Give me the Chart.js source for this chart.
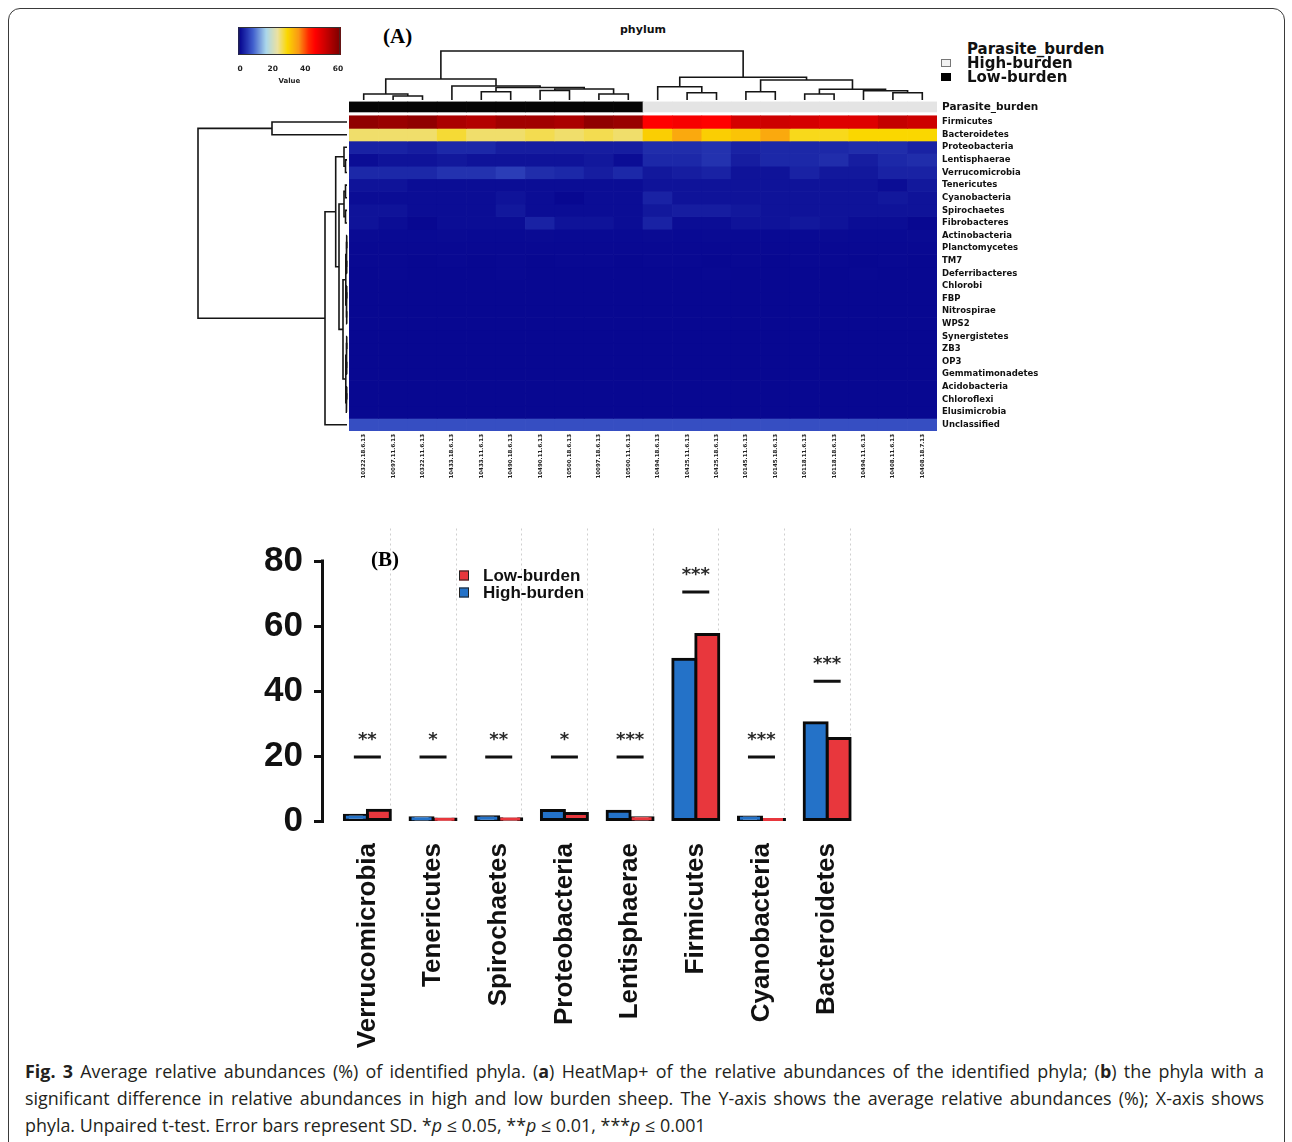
<!DOCTYPE html>
<html>
<head>
<meta charset="utf-8">
<script src="https://cdn.jsdelivr.net/npm/chart.js@4.4.1/dist/chart.umd.min.js"></script>
<style>
  html, body { margin: 0; padding: 0; background: #fff; }
  body { width: 1292px; height: 1142px; position: relative; overflow: hidden; font-family: "Liberation Sans", Arial, sans-serif; color: #111; }
  .frame { position: absolute; left: 8px; top: 8px; width: 1275px; height: 1170px; border: 1px solid #3a3a3a; border-radius: 12px; }
  .box { position: absolute; }
  .box canvas { display: block; }
  .txt { position: absolute; white-space: nowrap; }
  .panel { font-family: "Liberation Serif", "Times New Roman", serif; font-weight: bold; font-size: 21px; color: #000; }
  .sq { position: absolute; width: 10px; height: 8px; box-sizing: border-box; }
  .caption { position: absolute; left: 25px; top: 1058px; width: 1239px; font-family: "Open Sans", sans-serif; font-size: 17.9px; line-height: 27px; color: #231f20; }
  .caption .j { text-align: justify; text-align-last: justify; }
</style>
</head>
<body>
<div class="frame"></div>

<div class="box" style="left:230px;top:25px"><canvas id="keyChart" width="120" height="60"></canvas></div>
<div class="box" style="left:349px;top:49px"><canvas id="colTree" width="588" height="53"></canvas></div>
<div class="box" style="left:196px;top:100px"><canvas id="rowTree" width="153" height="331"></canvas></div>
<div class="box" style="left:349px;top:100px"><canvas id="heatChart" width="718" height="386"></canvas></div>
<div class="box" style="left:224px;top:520px"><canvas id="barChart" width="646" height="531"></canvas></div>

<div class="txt panel" style="left:383px;top:24px">(A)</div>
<div class="txt panel" style="left:371px;top:547px">(B)</div>
<div class="txt" style="left:620px;top:23px;font:bold 11px 'DejaVu Sans',sans-serif">phylum</div>

<div class="txt" style="left:967px;top:42px;font:bold 15px/14px 'DejaVu Sans',sans-serif">Parasite_burden</div>
<div class="sq" style="left:941px;top:59px;background:#f2f2f2;border:1px solid #777"></div>
<div class="txt" style="left:967px;top:56px;font:bold 15px/14px 'DejaVu Sans',sans-serif">High-burden</div>
<div class="sq" style="left:941px;top:73px;background:#000"></div>
<div class="txt" style="left:967px;top:70px;font:bold 15px/14px 'DejaVu Sans',sans-serif">Low-burden</div>

<div class="caption">
  <div class="j"><b>Fig. 3</b> Average relative abundances (%) of identified phyla. (<b>a</b>) HeatMap+ of the relative abundances of the identified phyla; (<b>b</b>) the phyla with a</div>
  <div class="j">significant difference in relative abundances in high and low burden sheep. The Y-axis shows the average relative abundances (%); X-axis shows</div>
  <div>phyla. Unpaired t-test. Error bars represent SD. *<i>p</i> ≤ 0.05, **<i>p</i> ≤ 0.01, ***<i>p</i> ≤ 0.001</div>
</div>

<script>
// ---------------- Panel A: heatmap of phylum relative abundance (%) ----------------
const sampleIds = ['10322.18.6.13','10097.11.6.13','10322.11.6.13','10433.18.6.13','10433.11.6.13',
  '10490.18.6.13','10490.11.6.13','10500.18.6.13','10097.18.6.13','10500.11.6.13',
  '10494.18.6.13','10425.11.6.13','10425.18.6.13','10145.11.6.13','10145.18.6.13',
  '10118.11.6.13','10118.18.6.13','10494.11.6.13','10408.11.6.13','10408.18.7.13'];
const burdenGroup = ['Low','Low','Low','Low','Low','Low','Low','Low','Low','Low',
  'High','High','High','High','High','High','High','High','High','High'];
const phyla = ['Firmicutes','Bacteroidetes','Proteobacteria','Lentisphaerae','Verrucomicrobia',
  'Tenericutes','Cyanobacteria','Spirochaetes','Fibrobacteres','Actinobacteria','Planctomycetes',
  'TM7','Deferribacteres','Chlorobi','FBP','Nitrospirae','WPS2','Synergistetes','ZB3','OP3',
  'Gemmatimonadetes','Acidobacteria','Chloroflexi','Elusimicrobia','Unclassified'];

const firmicutes      = [59,58,59,56,55,57,57,56,59,58, 46,47,46,51,52,51,50,50,53,52];
const bacteroidetes   = [25,25,25,27,25,25,26,25,26,25, 30,34,30,31,34,28,28,29,29,29];
const proteobacteria  = [2.5,2.5,2,3,3,2,2,2,2,2, 3.5,3.5,4,2.5,3,3,3,3.5,3.5,2.5];
const lentisphaerae   = [0.5,1,1,1.5,1,1,1,1,1.5,0.5, 3,3,4,2,3,3,3.5,2,3,3.5];
const verrucomicrobia = [3,3,3,4,4,5,3.5,3,2,3, 1.5,2,2.5,1,1,2.5,1.5,1.5,2.5,2.5];
const tenericutes     = [1,1,0.5,0.5,0.5,0.5,0.5,0.5,0.5,0.5, 1,1,1,1,1,1,1,1,0.5,1.5];
const cyanobacteria   = [0.5,0.5,0.5,0.5,0.5,1,0.5,0,0.5,0.5, 2.5,1,1,1,1,1,1,1,1.5,1];
const spirochaetes    = [1,1,0.5,0.5,0.5,1.5,0.5,0.5,0.5,0.5, 1.5,2,2,1.5,1,1,1,1,1,1];
const fibrobacteres   = [1,0.5,0,0.5,0.5,0.5,2.5,1,1,0.5, 2.5,0.5,0.5,1,1,1.5,1,0.5,0.5,0];
const actinobacteria  = [0.3,0.2,0.2,0.3,0.2,0.2,0.3,0.2,0.2,0.2, 0.3,0.2,0.3,0.2,0.2,0.2,0.3,0.2,0.2,0.3];
const planctomycetes  = [0.1,0.1,0.1,0.1,0.1,0.1,0.1,0.1,0.1,0.1, 0.1,0.1,0.1,0.1,0.1,0.1,0.1,0.1,0.1,0.1];
const tm7             = [0.1,0.1,0,0.1,0,0.1,0,0.1,0.1,0, 0.1,0.1,0,0.1,0,0.1,0.1,0,0.1,0];
const deferribacteres = [0,0.1,0,0,0,0.1,0,0,0,0, 0,0,0.1,0,0,0,0,0.1,0,0];
const chlorobi        = [0,0,0,0,0,0,0,0,0,0, 0,0,0,0,0,0,0,0,0,0];
const fbp             = [0,0,0,0,0,0,0,0,0,0, 0,0,0,0,0,0,0,0,0,0];
const nitrospirae     = [0,0,0,0,0,0,0,0,0,0, 0,0,0,0,0,0,0,0,0,0];
const wps2            = [0,0,0,0,0,0,0,0,0,0, 0,0,0,0,0,0,0,0,0,0];
const synergistetes   = [0,0,0,0,0,0,0,0,0,0, 0,0,0,0,0,0,0,0,0,0];
const zb3             = [0,0,0,0,0,0,0,0,0,0, 0,0,0,0,0,0,0,0,0,0];
const op3             = [0,0,0,0,0,0,0,0,0,0, 0,0,0,0,0,0,0,0,0,0];
const gemmatimonadetes= [0,0,0,0,0,0,0,0,0,0, 0,0,0,0,0,0,0,0,0,0];
const acidobacteria   = [0,0,0,0,0,0,0,0,0,0, 0,0,0,0,0,0,0,0,0,0];
const chloroflexi     = [0,0,0,0,0,0,0,0,0,0, 0,0,0,0,0,0,0,0,0,0];
const elusimicrobia   = [0,0,0,0,0,0,0,0,0,0, 0,0,0,0,0,0,0,0,0,0];
const unclassified    = [6.5,6.5,6.5,6.5,6.5,6.5,6.5,6.5,6.5,6.5, 6.5,6.5,6.5,6.5,6.5,6.5,6.5,6.5,6.5,6.5];

const heatRows = [firmicutes, bacteroidetes, proteobacteria, lentisphaerae, verrucomicrobia,
  tenericutes, cyanobacteria, spirochaetes, fibrobacteres, actinobacteria, planctomycetes,
  tm7, deferribacteres, chlorobi, fbp, nitrospirae, wps2, synergistetes, zb3, op3,
  gemmatimonadetes, acidobacteria, chloroflexi, elusimicrobia, unclassified];

// sample clustering: [left, right, height]; negative = leaf (column index + 1)
const colMerges = [
  [-2,-3,4], [-1,1,6], [-5,-6,8.3], [-7,-8,9.5], [-9,-10,6], [4,5,11], [3,6,12.5], [-4,7,14], [2,8,21],
  [-12,-13,7.3], [-11,10,13.3], [-14,-15,8.3], [-16,-17,6], [-19,-20,7.3], [-18,14,9.3], [13,15,10.7],
  [12,16,20], [11,17,22.7], [9,18,49]
];
// phylum clustering: [top, bottom, height]; negative = leaf (row index + 1)
const rowMerges = [
  [-1,-2,75], [-4,-5,1.5], [-3,2,3], [-6,-7,1.5], [-8,-9,1.5], [4,5,3],
  [-10,-11,0.3], [-12,-13,0.3], [7,8,0.6], [-14,-15,0.3], [-16,-17,0.3], [10,11,0.6], [9,12,1.2],
  [-18,-19,0.3], [-20,-21,0.3], [14,15,0.6], [-22,-23,0.3], [17,-24,0.6], [16,18,1.2],
  [13,19,4], [6,20,8], [3,21,11.3], [22,-25,22], [1,23,149]
];

// colour key: value stops and their RGB colours
const keyTicks = [0, 20, 40, 60];
const colorStops = [0, 4, 8, 16, 23, 29, 36, 42, 46, 52, 60];
const colorRGB = [[8,8,145],[35,50,175],[65,95,205],[170,215,235],[235,225,160],[250,215,0],
  [250,150,20],[255,40,0],[255,0,0],[205,0,0],[135,0,0]];

// ---------------- Panel B: average relative abundance (%) ----------------
const barPhyla   = ['Verrucomicrobia','Tenericutes','Spirochaetes','Proteobacteria','Lentisphaerae','Firmicutes','Cyanobacteria','Bacteroidetes'];
const highBurden = [1.8, 1.0, 1.3, 3.2, 3.0, 49.8, 1.2, 30.2];
const lowBurden  = [3.3, 0.6, 0.7, 2.3, 1.0, 57.4, 0.5, 25.4];
const sigStars   = ['**','*','**','*','***','***','***','***'];
const sigLineAt  = [19.7, 19.7, 19.7, 19.7, 19.7, 70.5, 19.7, 43];
const barTicks   = [0, 20, 40, 60, 80];

// ---------------- helpers ----------------
function heatColor(v) {
  if (v <= colorStops[0]) return `rgb(${colorRGB[0].join(',')})`;
  for (let k = 1; k < colorStops.length; k++) {
    if (v <= colorStops[k]) {
      const t = (v - colorStops[k-1]) / (colorStops[k] - colorStops[k-1]);
      const a = colorRGB[k-1], b = colorRGB[k];
      return `rgb(${a.map((c, j) => Math.round(c + (b[j] - c) * t)).join(',')})`;
    }
  }
  return `rgb(${colorRGB[colorRGB.length-1].join(',')})`;
}

function dendroSegments(merges, leafPos) {
  const pos = [], hgt = [], segs = [];
  const at = id => id < 0 ? [leafPos(-id - 1), 0] : [pos[id - 1], hgt[id - 1]];
  merges.forEach(([a, b, h]) => {
    const [pa, ha] = at(a), [pb, hb] = at(b);
    segs.push([[pa, ha], [pa, h], [pb, h], [pb, hb]]);
    pos.push((pa + pb) / 2); hgt.push(h);
  });
  return segs;
}

const noPad = s => { s.paddingTop = 0; s.paddingBottom = 0; s.paddingLeft = 0; s.paddingRight = 0; };
const quiet = { legend: { display: false }, tooltip: { enabled: false } };
const lineStyle = { showLine: true, borderColor: '#151515', borderWidth: 1.6, pointRadius: 0, tension: 0, clip: false };

// ---------------- colour key ----------------
const keyGradient = {
  id: 'keyGradient',
  beforeDatasetsDraw(chart) {
    const { ctx, chartArea: a, scales: { x } } = chart;
    ctx.save();
    for (let px = Math.floor(a.left); px < Math.ceil(a.right); px++) {
      ctx.fillStyle = heatColor(x.getValueForPixel(px + 0.5));
      ctx.fillRect(px, a.top, 1, a.bottom - a.top);
    }
    ctx.strokeStyle = '#333'; ctx.lineWidth = 1;
    ctx.strokeRect(a.left + 0.5, a.top + 0.5, a.right - a.left - 1, a.bottom - a.top - 1);
    ctx.restore();
  }
};
new Chart(document.getElementById('keyChart'), {
  type: 'scatter',
  data: { datasets: [{ data: [] }] },
  plugins: [keyGradient],
  options: {
    responsive: false, animation: false,
    layout: { autoPadding: false, padding: { left: 8.4, right: 9.6, top: 2, bottom: 0 } },
    plugins: quiet,
    scales: {
      x: { type: 'linear', min: -1, max: 61.5,
        afterBuildTicks(s) { s.ticks = keyTicks.map(v => ({ value: v })); },
        grid: { display: false, drawTicks: false }, border: { display: false },
        ticks: { padding: 10, color: '#222', font: { family: 'DejaVu Sans', size: 7.5, weight: 'bold' } },
        title: { display: true, text: 'Value', padding: 0, color: '#222', font: { family: 'DejaVu Sans', size: 7, weight: 'bold' } },
        afterFit(s) { s.height = 30; noPad(s); } },
      y: { display: false, min: 0, max: 1 }
    }
  }
});

// ---------------- column dendrogram ----------------
new Chart(document.getElementById('colTree'), {
  type: 'scatter',
  data: { datasets: dendroSegments(colMerges, i => i).map(seg => ({
    ...lineStyle, data: seg.map(([p, h]) => ({ x: p, y: h })) })) },
  options: {
    responsive: false, animation: false,
    layout: { autoPadding: false, padding: { top: 2, bottom: 2, left: 0, right: 0 } },
    plugins: quiet,
    scales: { x: { display: false, min: -0.5, max: 19.5 }, y: { display: false, min: 0, max: 49 } }
  }
});

// ---------------- row dendrogram ----------------
new Chart(document.getElementById('rowTree'), {
  type: 'scatter',
  data: { datasets: dendroSegments(rowMerges, r => r + 0.5).map(seg => ({
    ...lineStyle, data: seg.map(([p, h]) => ({ x: h, y: p })) })) },
  options: {
    responsive: false, animation: false,
    layout: { autoPadding: false, padding: { left: 2, right: 2, top: 0, bottom: 0 } },
    plugins: quiet,
    scales: { x: { display: false, reverse: true, min: 0, max: 149 },
              y: { display: false, reverse: true, min: -1.25, max: 25 } }
  }
});

// ---------------- heatmap ----------------
const heatDatasets = [{
  label: 'Parasite_burden',
  data: sampleIds.map(() => [-1.1, -0.3]),
  backgroundColor: burdenGroup.map(g => g === 'Low' ? '#050505' : '#e4e4e4')
}].concat(heatRows.map((vals, r) => ({
  label: phyla[r],
  data: vals.map(() => [r, r + 1]),
  backgroundColor: vals.map(heatColor)
})));

new Chart(document.getElementById('heatChart'), {
  type: 'bar',
  data: { labels: sampleIds, datasets: heatDatasets },
  options: {
    responsive: false, animation: false,
    layout: { autoPadding: false, padding: 0 },
    plugins: quiet,
    datasets: { bar: { grouped: false, barPercentage: 1, categoryPercentage: 1, borderWidth: 0 } },
    scales: {
      x: { type: 'category', offset: true,
        grid: { display: false, drawTicks: false }, border: { display: false },
        ticks: { autoSkip: false, minRotation: 90, maxRotation: 90, padding: 3, color: '#222',
          font: { family: 'DejaVu Sans', size: 5.5, weight: 'bold' } },
        afterFit(s) { s.height = 55; noPad(s); } },
      y: { type: 'linear', position: 'right', reverse: true, min: -1.25, max: 25,
        grid: { display: false, drawTicks: false }, border: { display: false },
        afterBuildTicks(s) { s.ticks = [{ value: -0.7 }].concat(phyla.map((_, i) => ({ value: i + 0.5 }))); },
        ticks: { autoSkip: false, padding: 5, color: '#111',
          callback: (v, i) => i === 0 ? 'Parasite_burden' : phyla[i - 1],
          font: c => c.index === 0 ? { family: 'DejaVu Sans', size: 10.5, weight: 'bold' }
                                   : { family: 'DejaVu Sans', size: 8.5, weight: 'bold' } },
        afterFit(s) { s.width = 130; noPad(s); } }
    }
  }
});

// ---------------- bar chart ----------------
const panelBExtras = {
  id: 'panelBExtras',
  afterDatasetsDraw(chart) {
    const { ctx, chartArea: a, scales: { x, y } } = chart;
    ctx.save();
    // y axis line spanning the labelled range
    ctx.strokeStyle = '#111'; ctx.lineWidth = 3;
    ctx.beginPath();
    ctx.moveTo(a.left - 1.5, y.getPixelForValue(barTicks[0]) + 1.5);
    ctx.lineTo(a.left - 1.5, y.getPixelForValue(barTicks[barTicks.length - 1]) - 1.5);
    ctx.stroke();
    // significance stars above each bracket line
    ctx.fillStyle = '#2a2a2a'; ctx.textAlign = 'center'; ctx.textBaseline = 'middle';
    ctx.font = 'bold 18px "DejaVu Sans"';
    sigStars.forEach((s, i) => ctx.fillText(s, x.getPixelForValue(i), y.getPixelForValue(sigLineAt[i]) - 17));
    // legend
    const lx = a.left + 135, ly = a.top + 47;
    const items = [['Low-burden', '#e8373d'], ['High-burden', '#2472c8']];
    ctx.font = 'bold 17px "Liberation Sans"'; ctx.textAlign = 'left';
    items.forEach(([t, c], k) => {
      const yy = ly + k * 17;
      ctx.fillStyle = c; ctx.fillRect(lx, yy - 5, 10, 10);
      ctx.strokeStyle = '#222'; ctx.lineWidth = 1; ctx.strokeRect(lx + 0.5, yy - 4.5, 9, 9);
      ctx.fillStyle = '#111'; ctx.fillText(t, lx + 24, yy + 1);
    });
    ctx.restore();
  }
};

new Chart(document.getElementById('barChart'), {
  type: 'bar',
  data: {
    datasets: [
      { label: 'High-burden', data: highBurden.map((v, i) => ({ x: i, y: v })),
        backgroundColor: '#2472c8', borderColor: '#0a0a0a', borderWidth: 3, borderSkipped: false,
        inflateAmount: 1.5, barPercentage: 1, categoryPercentage: 0.7 },
      { label: 'Low-burden', data: lowBurden.map((v, i) => ({ x: i, y: v })),
        backgroundColor: '#e8373d', borderColor: '#0a0a0a', borderWidth: 3, borderSkipped: false,
        inflateAmount: 1.5, barPercentage: 1, categoryPercentage: 0.7 },
      { type: 'scatter', label: 'sig', data: sigLineAt.map((v, i) => ({ x: i, y: v })),
        pointStyle: 'line', pointRadius: 13.5, pointBorderWidth: 3, pointBorderColor: '#111',
        borderColor: '#111', showLine: false }
    ]
  },
  plugins: [panelBExtras],
  options: {
    responsive: false, animation: false,
    layout: { autoPadding: false, padding: { top: 8.5, right: 10, left: 0, bottom: 0 } },
    plugins: quiet,
    scales: {
      x: { type: 'linear', min: -0.66, max: 7.5, offset: false,
        afterBuildTicks(s) { s.ticks = barPhyla.map((_, i) => ({ value: i })); },
        grid: { display: false, drawTicks: false, offset: false }, border: { display: false },
        ticks: { autoSkip: false, minRotation: 90, maxRotation: 90, padding: 22, color: '#111',
          callback: (v, i) => barPhyla[i],
          font: { family: 'Liberation Sans', size: 26, weight: 'bold' } },
        afterFit(s) { s.height = 230; noPad(s); } },
      x2: { type: 'linear', position: 'bottom', min: -0.66, max: 7.5, offset: false,
        afterBuildTicks(s) { s.ticks = barPhyla.map((_, i) => ({ value: i + 0.35 })); },
        grid: { display: true, drawTicks: false, offset: false, color: '#cfcfcf', lineWidth: 1 },
        border: { display: false, dash: [2, 3] },
        ticks: { display: false },
        afterFit(s) { s.height = 0; noPad(s); } },
      y: { type: 'linear', min: 0, max: 90,
        afterBuildTicks(s) { s.ticks = barTicks.map(v => ({ value: v })); },
        grid: { display: true, drawOnChartArea: false, drawTicks: true, tickLength: 10, lineWidth: 3, tickWidth: 3, tickColor: '#111' },
        border: { display: false },
        ticks: { padding: 11, color: '#111', font: { family: 'Liberation Sans', size: 35, weight: 'bold' } },
        afterFit(s) { s.width = 100; noPad(s); } }
    }
  }
});
</script>
</body>
</html>
